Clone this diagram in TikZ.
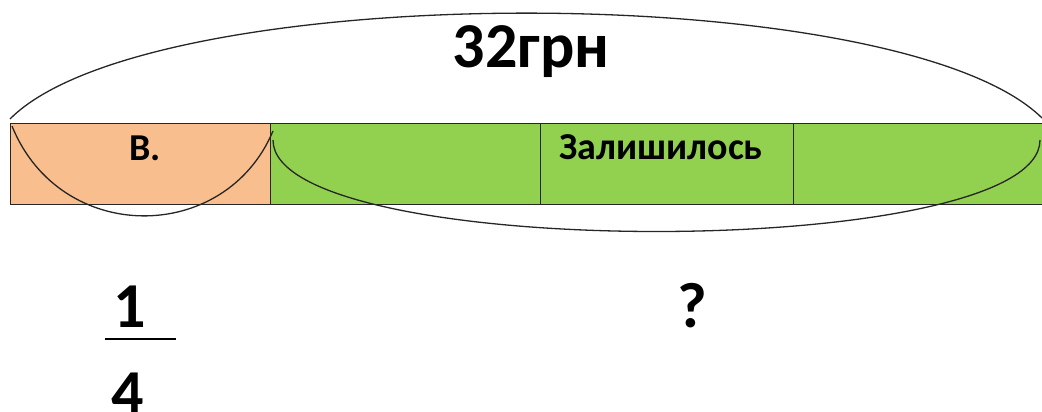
\documentclass[tikz,border=0pt]{standalone}
\usepackage{fontspec}
\setmainfont{Carlito}
\begin{document}
\begin{tikzpicture}[x=1pt,y=-1pt,
  cell/.style={draw=black!85,line width=1.4pt,inner sep=0pt,minimum height=81pt,anchor=north west},
  arc/.style={draw=black!85,line width=1.3pt},
  lbl/.style={font=\bfseries\fontsize{38}{44}\selectfont,anchor=base,inner sep=0pt},
  big/.style={font=\bfseries\fontsize{64}{70}\selectfont,anchor=base,inner sep=0pt}]
\definecolor{cellorange}{HTML}{F8BE8E}
\definecolor{cellgreen}{HTML}{92D050}
\useasboundingbox (0,0) rectangle (1042,412);
\node[cell,fill=cellorange,minimum width=260pt] (c1) at (10,123) {};
\node[cell,fill=cellgreen,minimum width=270pt] (c2) at (270,123) {};
\node[cell,fill=cellgreen,minimum width=253pt] (c3) at (540,123) {};
\node[cell,fill=cellgreen,minimum width=253pt] (c4) at (793,123) {};
\node[lbl] (tv) at (145,160) {В.};
\node[lbl] (tz) at (661,159) {Залишилось};
\node[big] (tsum) at (531,68) {32грн};
\node[big] (tq) at (692,327) {?};
\node[big] (tone) at (130,327) {1};
\node[big] (tfour) at (128,414) {4};
\coordinate (fl) at (105,339);
\coordinate (fr) at (176,339);
\draw[line width=1.4pt] (fl) -- (fr);
% arcs
\coordinate (a1) at (10,119);
\coordinate (a2) at (1042,118);
\draw[arc] (a1) .. controls (150,-22) and (900,-22) .. (a2);
\coordinate (b1) at (12,126);
\coordinate (b2) at (273,131);
\draw[arc] (b1) .. controls (60,245) and (225,245) .. (b2);
\coordinate (d1) at (273,140);
\coordinate (d2) at (1040,140);
\draw[arc] (d1) .. controls (273,262) and (1040,262) .. (d2);
\end{tikzpicture}
\end{document}
